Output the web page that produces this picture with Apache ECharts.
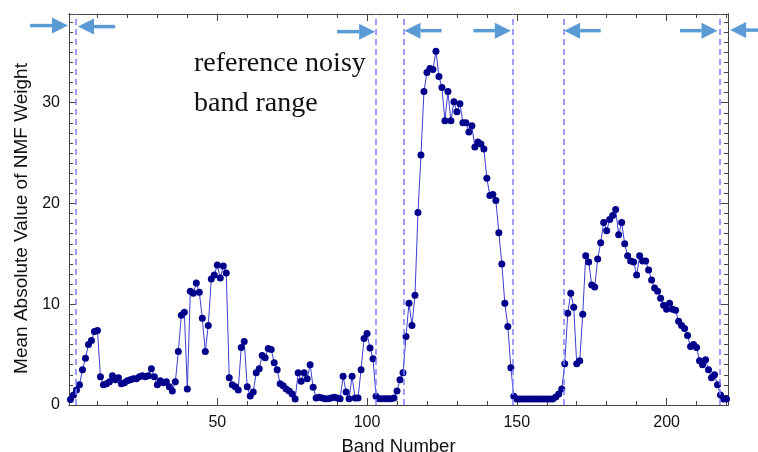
<!DOCTYPE html>
<html>
<head>
<meta charset="utf-8">
<script src="https://cdn.jsdelivr.net/npm/echarts@6/dist/echarts.min.js"></script>
<style>
html, body { margin: 0; padding: 0; background: #fff; }
#chart { width: 758px; height: 452px; }
</style>
</head>
<body>
<div id="chart"></div>
<script>
// band numbers 1..220
var bands = [];
for (var b = 1; b <= 220; b++) bands.push(b);

// mean |NMF weight| per band
var weights = [
    0.55, 1.0, 1.5, 2.0, 3.5, 4.65, 6.0, 6.4, 7.3, 7.4,
    2.8, 2.0, 2.1, 2.3, 2.9, 2.5, 2.7, 2.1, 2.2, 2.4,
    2.5, 2.6, 2.6, 2.8, 2.9, 2.8, 2.9, 3.6, 2.8, 2.0,
    2.4, 2.2, 2.3, 1.8, 1.4, 2.3, 5.3, 8.9, 9.2, 1.6,
    11.3, 11.1, 12.1, 11.2, 8.6, 5.3, 7.9, 12.5, 12.9, 13.9,
    12.6, 13.8, 13.1, 2.7, 2.0, 1.8, 1.5, 5.7, 6.3, 1.8,
    0.9, 1.3, 3.2, 3.6, 4.9, 4.7, 5.6, 5.5, 4.2, 3.5,
    2.1, 1.9, 1.6, 1.4, 1.1, 0.6, 3.2, 2.35, 3.2, 2.6,
    4.0, 1.75, 0.7, 0.76, 0.7, 0.63, 0.63, 0.7, 0.76, 0.7,
    0.63, 2.85, 1.3, 0.63, 2.85, 0.7, 0.7, 3.5, 6.6, 7.1,
    5.65, 4.6, 0.86, 0.63, 0.63, 0.63, 0.63, 0.63, 0.7, 1.4,
    2.5, 3.2, 6.8, 10.1, 7.9, 10.9, 19.1, 24.8, 31.1, 33.0,
    33.4, 33.3, 35.1, 32.6, 31.5, 28.2, 31.1, 28.2, 30.1, 29.1,
    29.9, 28.0, 28.0, 27.1, 27.7, 25.6, 26.1, 25.9, 25.4, 22.5,
    20.8, 20.9, 20.3, 17.1, 14.0, 10.1, 7.8, 3.7, 0.86, 0.6,
    0.6, 0.6, 0.6, 0.6, 0.6, 0.6, 0.6, 0.6, 0.6, 0.6,
    0.6, 0.6, 0.8, 1.1, 1.6, 4.1, 9.1, 11.1, 9.7, 4.1,
    4.4, 9.0, 14.8, 14.2, 11.9, 11.7, 14.5, 16.1, 18.1, 17.3,
    18.4, 18.8, 19.4, 16.9, 18.1, 16.0, 14.8, 14.3, 14.2, 12.9,
    14.8, 14.3, 14.3, 13.4, 12.4, 11.6, 11.3, 10.6, 9.9, 9.5,
    10.1, 9.5, 9.4, 8.3, 7.9, 7.6, 6.9, 5.8, 6.0, 5.7,
    4.4, 4.0, 4.5, 3.5, 2.7, 3.0, 2.0, 1.0, 0.6, 0.6
];

// dashed boundaries of the noisy band ranges (band units)
var noisyEdges = [2.84, 103.0, 112.1, 148.5, 165.5, 217.6];

// arrows: [tail, tip] in band units, and their height in weight units
var arrows = [
    [-12.5, 0.17], [15.9, 3.5], [90.0, 102.7], [124.9, 112.5],
    [135.5, 148.0], [178.0, 165.8], [204.5, 217.0], [231.2, 221.2]
];
var arrowLevels = [37.65, 37.55, 37.05, 37.15, 37.15, 37.15, 37.15, 37.2];

var xMajor = [50, 100, 150, 200];
var xMinor = [10, 20, 30, 40, 60, 70, 80, 90, 110, 120, 130, 140, 160, 170, 180, 190, 210, 220];
var yMajor = [0, 10, 20, 30];
var yMinor = [];
for (var t = 1; t <= 38; t++) if (t % 10 !== 0) yMinor.push(t);

var axisColor = '#444';
var labelFont = 'Liberation Sans';

function xAx(pos, ticks, len, withLabels) {
    return {
        type: 'value', position: pos, min: 0.5, max: 220.5,
        axisLine: { show: true, onZero: false, lineStyle: { color: axisColor, width: 1 } },
        axisTick: { show: true, inside: true, length: len, customValues: ticks, lineStyle: { color: axisColor } },
        axisLabel: withLabels ? { show: true, customValues: xMajor, margin: 10, fontSize: 16, color: '#111', fontFamily: labelFont } : { show: false },
        splitLine: { show: false }
    };
}
function yAx(pos, ticks, len, withLabels) {
    return {
        type: 'value', position: pos, min: 0, max: 38.8,
        axisLine: { show: true, onZero: false, lineStyle: { color: axisColor, width: 1 } },
        axisTick: { show: true, inside: true, length: len, customValues: ticks, lineStyle: { color: axisColor } },
        axisLabel: withLabels ? { show: true, customValues: yMajor, margin: 9, fontSize: 16, color: '#111', fontFamily: labelFont } : { show: false },
        splitLine: { show: false }
    };
}

var xAxes = [xAx('bottom', xMajor, 7, true), xAx('bottom', xMinor, 4, false), xAx('top', xMajor, 7, false), xAx('top', xMinor, 4, false)];
xAxes[0].name = 'Band Number';
xAxes[0].nameLocation = 'middle';
xAxes[0].nameGap = 32;
xAxes[0].nameTextStyle = { fontSize: 18.5, color: '#111', fontFamily: labelFont };

var yAxes = [yAx('left', yMajor, 7, true), yAx('left', yMinor, 4, false), yAx('right', yMajor, 7, false), yAx('right', yMinor, 4, false)];
yAxes[0].name = 'Mean Absolute Value of NMF Weight';
yAxes[0].nameLocation = 'middle';
yAxes[0].nameGap = 34;
yAxes[0].nameTextStyle = { fontSize: 19, color: '#111', fontFamily: labelFont, padding: [0, 18, 0, 0] };

var dom = document.getElementById('chart');
var myChart = echarts.init(dom);

var option = {
    animation: false,
    title: {
        text: 'reference noisy\nband range',
        left: 194,
        top: 44,
        padding: 0,
        textStyle: { fontFamily: 'Liberation Serif', fontSize: 28, fontWeight: 'normal', color: '#111', lineHeight: 40 }
    },
    grid: { left: 69, right: 30, top: 14, bottom: 47, containLabel: false, outerBoundsMode: 'none' },
    xAxis: xAxes,
    yAxis: yAxes,
    series: [
        {
            name: 'weight',
            type: 'line',
            xAxisIndex: 0,
            yAxisIndex: 0,
            data: bands.map(function (b, i) { return [b, weights[i]]; }),
            symbol: 'circle',
            symbolSize: 7,
            showSymbol: true,
            itemStyle: { color: '#00008b' },
            lineStyle: { color: '#3c3cd0', width: 1 },
            markLine: {
                silent: true,
                symbol: ['none', 'none'],
                label: { show: false },
                lineStyle: { color: '#7f7fff', type: [6, 4], width: 1.5 },
                data: noisyEdges.map(function (v) { return { xAxis: v }; })
            }
        }
    ]
};
myChart.setOption(option, true);

// arrows, placed through the chart's own scales
var arrowColor = '#5b9bd5';
var arrowGraphics = arrows.map(function (a, i) {
    var p0 = myChart.convertToPixel({ seriesIndex: 0 }, [a[0], arrowLevels[i]]);
    var p1 = myChart.convertToPixel({ seriesIndex: 0 }, [a[1], arrowLevels[i]]);
    var dir = p1[0] > p0[0] ? 1 : -1;
    var headLen = 16, half = 8;
    var base = p1[0] - dir * headLen;
    return {
        type: 'group',
        children: [
            { type: 'line', shape: { x1: p0[0], y1: p0[1], x2: base, y2: p1[1] }, style: { stroke: arrowColor, lineWidth: 3.5 } },
            { type: 'polygon', shape: { points: [[p1[0], p1[1]], [base, p1[1] - half], [base, p1[1] + half]] }, style: { fill: arrowColor } }
        ]
    };
});
myChart.setOption({ graphic: arrowGraphics });
</script>
</body>
</html>
